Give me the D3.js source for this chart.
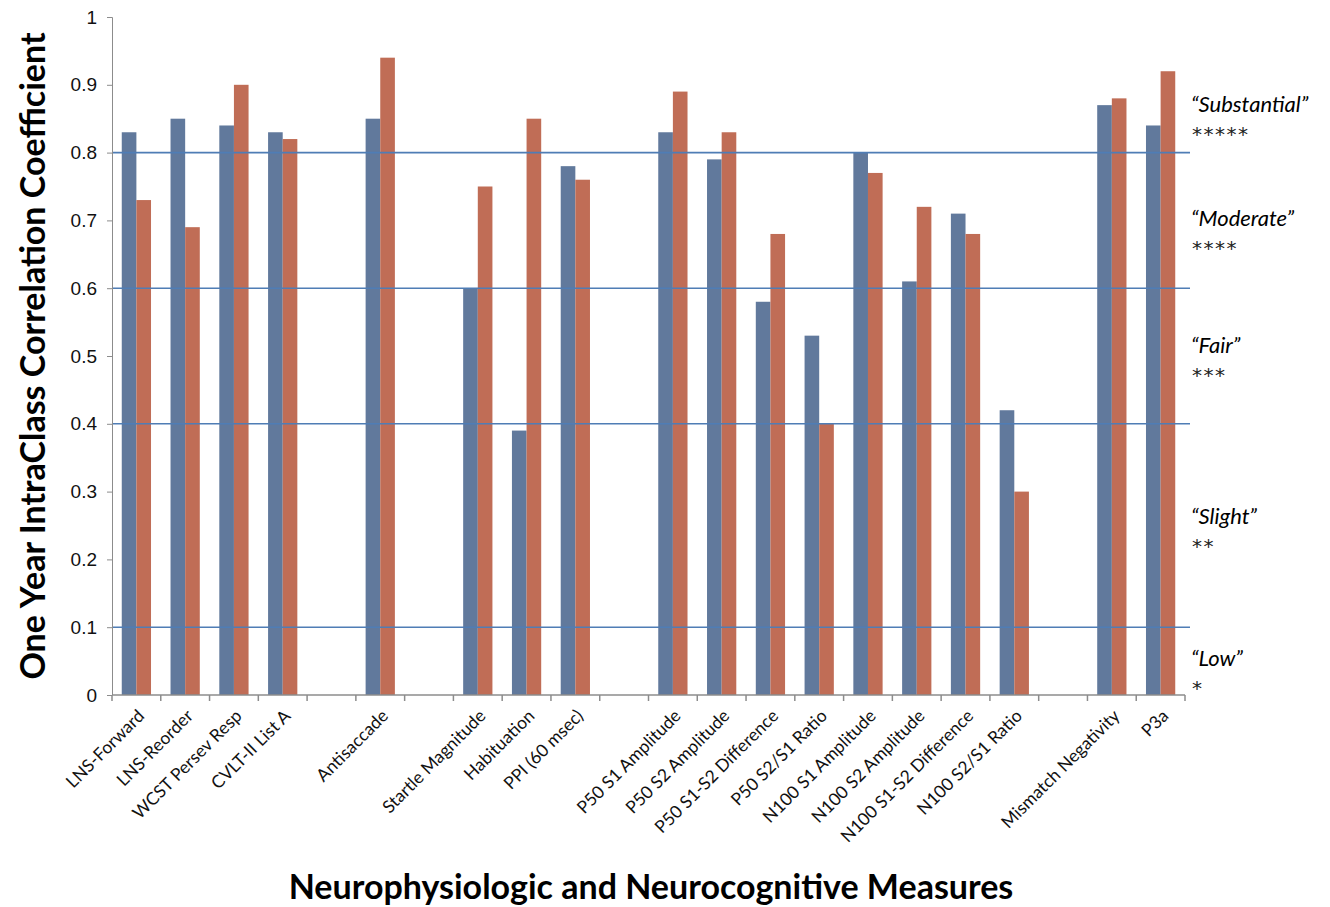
<!DOCTYPE html>
<html>
<head>
<meta charset="utf-8">
<script src="https://cdn.jsdelivr.net/npm/d3@7"></script>
<style>
    body { margin: 0; background: #fff; }
    svg { display: block; font-family: Lato, "Open Sans", sans-serif; }
    .axis path, .axis line { stroke: #8c8c8c; }
    .axis text { fill: #111; }
</style>
</head>
<body>
<svg id="chart"></svg>
<script>
// Measures along the x axis ("" entries are empty slots between groups)
const categories = [
    "LNS-Forward", "LNS-Reorder", "WCST Persev Resp", "CVLT-II List A", "",
    "Antisaccade", "",
    "Startle Magnitude", "Habituation", "PPI (60 msec)", "",
    "P50 S1 Amplitude", "P50 S2 Amplitude", "P50 S1-S2 Difference", "P50 S2/S1 Ratio",
    "N100 S1 Amplitude", "N100 S2 Amplitude", "N100 S1-S2 Difference", "N100 S2/S1 Ratio", "",
    "Mismatch Negativity", "P3a"
];

// ICC values, blue series and orange series (null = no bar)
const valuesBlue = [
    0.83, 0.85, 0.84, 0.83, null,
    0.85, null,
    0.60, 0.39, 0.78, null,
    0.83, 0.79, 0.58, 0.53,
    0.80, 0.61, 0.71, 0.42, null,
    0.87, 0.84
];
const valuesOrange = [
    0.73, 0.69, 0.90, 0.82, null,
    0.94, null,
    0.75, 0.85, 0.76, null,
    0.89, 0.83, 0.68, 0.40,
    0.77, 0.72, 0.68, 0.30, null,
    0.88, 0.92
];

const yTicks = [0, 0.1, 0.2, 0.3, 0.4, 0.5, 0.6, 0.7, 0.8, 0.9, 1];
const refLines = [0.1, 0.4, 0.6, 0.8];
const ratingNames = ["\u201cSubstantial\u201d", "\u201cModerate\u201d", "\u201cFair\u201d", "\u201cSlight\u201d", "\u201cLow\u201d"];
const ratingStars = ["*****", "****", "***", "**", "*"];

const yTitle = "One Year IntraClass Correlation Coefficient";
const xTitle = "Neurophysiologic and Neurocognitive Measures";

const W = 1330, H = 907;
const margin = { top: 17, right: 145, bottom: 212, left: 112 };
const width = W - margin.left - margin.right;
const height = H - margin.top - margin.bottom;

const svg = d3.select('#chart').attr('width', W).attr('height', H);
const chart = svg.append('g')
    .attr('transform', `translate(${margin.left},${margin.top})`);

// unique keys so the empty slots get their own band
const keys = categories.map((c, i) => i);

const xScale = d3.scaleBand()
    .domain(keys)
    .range([0, width])
    .paddingInner(0.4)
    .paddingOuter(0.2);

const xSub = d3.scaleBand()
    .domain(['blue', 'orange'])
    .range([0, xScale.bandwidth()]);

const yScale = d3.scaleLinear()
    .domain([0, 1])
    .range([height, 0]);

const colors = { blue: '#61799c', orange: '#c06d56' };

// bars
const bars = [];
keys.forEach(i => {
    if (valuesBlue[i] != null) bars.push({ i: i, s: 'blue', v: valuesBlue[i] });
    if (valuesOrange[i] != null) bars.push({ i: i, s: 'orange', v: valuesOrange[i] });
});

chart.selectAll('rect.bar')
    .data(bars)
    .join('rect')
        .attr('class', 'bar')
        .attr('x', d => xScale(d.i) + xSub(d.s))
        .attr('y', d => yScale(d.v))
        .attr('width', xSub.bandwidth())
        .attr('height', d => height - yScale(d.v))
        .attr('fill', d => colors[d.s]);

// reference lines drawn over the bars
chart.selectAll('line.ref')
    .data(refLines)
    .join('line')
        .attr('class', 'ref')
        .attr('x1', 0)
        .attr('x2', width + 5)
        .attr('y1', d => yScale(d))
        .attr('y2', d => yScale(d))
        .attr('stroke', '#4f7db5')
        .attr('stroke-width', 1.6);

// axes
const yAxis = d3.axisLeft(yScale)
    .tickValues(yTicks)
    .tickFormat(d => d3.format('')(+d.toFixed(1)))
    .tickSize(5)
    .tickPadding(10);

const yAxisG = chart.append('g')
    .attr('class', 'axis y-axis')
    .call(yAxis);
yAxisG.select('.domain').attr('d', `M-5,0.5H0.5V${height}`);
yAxisG.selectAll('text').style('font-size', '19px');

// x ticks sit on the band boundaries, like the Excel original
const xAxisG = chart.append('g')
    .attr('class', 'axis x-axis')
    .attr('transform', `translate(0,${height})`);
xAxisG.append('line')
    .attr('x1', 0).attr('x2', width)
    .attr('stroke', '#8c8c8c').attr('stroke-width', 1.5);
const step = xScale.step();
xAxisG.selectAll('line.tick')
    .data(d3.range(categories.length + 1))
    .join('line')
        .attr('class', 'tick')
        .attr('x1', d => xScale(0) - step * xScale.paddingInner() / 2 + d * step)
        .attr('x2', d => xScale(0) - step * xScale.paddingInner() / 2 + d * step)
        .attr('y1', 0).attr('y2', 6)
        .attr('stroke', '#8c8c8c').attr('stroke-width', 1.5);

xAxisG.selectAll('text.lbl')
    .data(keys.filter(i => categories[i] !== ''))
    .join('text')
        .attr('class', 'lbl')
        .attr('transform', i => `translate(${xScale(i) + xScale.bandwidth() / 2 + 9},${22}) rotate(-45)`)
        .attr('text-anchor', 'end')
        .style('font-size', '17.5px')
        .attr('fill', '#111')
        .text(i => categories[i]);

// axis titles
svg.append('text')
    .attr('transform', `translate(45,${margin.top + height / 2}) rotate(-90)`)
    .attr('text-anchor', 'middle')
    .style('font-size', '34px')
    .style('font-weight', 'bold')
    .text(yTitle);

svg.append('text')
    .attr('x', 651)
    .attr('y', 899)
    .attr('text-anchor', 'middle')
    .style('font-size', '34px')
    .style('font-weight', 'bold')
    .text(xTitle);

// rating labels on the right
const ratingAt = [0.86, 0.692, 0.505, 0.252, 0.043];
const ratings = svg.append('g')
    .attr('transform', `translate(${margin.left + width + 6},${margin.top})`);
ratingNames.forEach((name, k) => {
    ratings.append('text')
        .attr('x', 0)
        .attr('y', yScale(ratingAt[k]))
        .style('font-size', '22px')
        .style('font-style', 'italic')
        .text(name);
    ratings.append('text')
        .attr('x', 1)
        .attr('y', yScale(ratingAt[k]) + 29)
        .style('font-family', '"DejaVu Sans", sans-serif')
        .style('font-size', '20px')
        .style('font-style', 'italic')
        .style('letter-spacing', '1.5px')
        .attr('fill', '#222')
        .text(ratingStars[k]);
});
</script>
</body>
</html>
